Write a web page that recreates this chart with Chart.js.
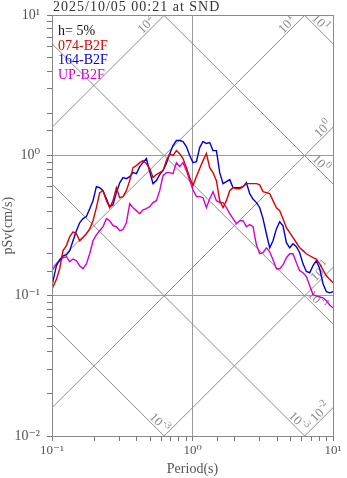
<!DOCTYPE html>
<html>
<head>
<meta charset="utf-8">
<script src="https://cdn.jsdelivr.net/npm/chart.js@4.4.1/dist/chart.umd.min.js"></script>
<style>
html,body{margin:0;padding:0;background:#fff;}
canvas{display:block;}
</style>
</head>
<body>
<canvas id="c" width="347" height="478"></canvas>
<script>
// ---------------- data ----------------
const titleText = '2025/10/05 00:21 at SND';
const dampingText = 'h= 5%';
const seriesNames = ['074-B2F', '164-B2F', 'UP-B2F'];
const seriesColors = ['#e00000', '#0000dc', '#d400d4'];

const periods = [
  0.100, 0.1075, 0.1134, 0.1198, 0.1266, 0.1337, 0.1411, 0.1492, 0.1574, 0.1662,
  0.1757, 0.1855, 0.1958, 0.2070, 0.2185, 0.2307, 0.2439, 0.2575, 0.2718, 0.2873,
  0.3033, 0.3201, 0.3384, 0.3573, 0.3772, 0.3988, 0.4209, 0.4443, 0.4697, 0.4959,
  0.5235, 0.5534, 0.5842, 0.6166, 0.6519, 0.6884, 0.7266, 0.7681, 0.8109, 0.8558,
  0.9050, 0.9552, 1.008, 1.066, 1.125, 1.188, 1.256, 1.326, 1.399, 1.480,
  1.562, 1.649, 1.743, 1.840, 1.942, 2.053, 2.168, 2.288, 2.419, 2.554,
  2.696, 2.850, 3.009, 3.176, 3.357, 3.544, 3.741, 3.956, 4.175, 4.407,
  4.660, 4.918, 5.192, 5.489, 5.794, 6.116, 6.466, 6.826, 7.205, 7.618,
  8.041, 8.489, 8.974, 9.473, 10.0
];

const sv074 = [
  0.112, 0.131, 0.156, 0.210, 0.228, 0.264, 0.286, 0.277, 0.247, 0.260,
  0.277, 0.300, 0.343, 0.425, 0.544, 0.562, 0.477, 0.425, 0.477, 0.591,
  0.501, 0.510, 0.562, 0.663, 0.821, 0.848, 0.891, 0.921, 0.877, 0.808,
  0.697, 0.732, 0.756, 0.781, 0.921, 1.033, 1.000, 1.086, 1.033, 0.952,
  0.821, 0.697, 0.611, 0.708, 0.808, 0.921, 1.033, 0.821, 0.756, 0.663,
  0.477, 0.425, 0.477, 0.562, 0.591, 0.580, 0.580, 0.600, 0.631, 0.631,
  0.631, 0.631, 0.620, 0.553, 0.544, 0.535, 0.477, 0.425, 0.405, 0.355,
  0.306, 0.282, 0.260, 0.239, 0.220, 0.210, 0.1995, 0.193, 0.187, 0.183,
  0.169, 0.153, 0.139, 0.131, 0.124
];

const sv164 = [
  0.118, 0.164, 0.181, 0.193, 0.196, 0.210, 0.247, 0.291, 0.332, 0.355,
  0.367, 0.418, 0.477, 0.600, 0.590, 0.562, 0.493, 0.432, 0.446, 0.544,
  0.640, 0.697, 0.685, 0.708, 0.756, 0.744, 0.835, 0.891, 0.952, 0.770,
  0.631, 0.663, 0.732, 0.781, 0.877, 1.033, 1.179, 1.280, 1.280, 1.260,
  1.160, 1.000, 0.891, 0.905, 1.140, 1.260, 1.220, 1.240, 1.086, 1.086,
  0.756, 0.631, 0.652, 0.674, 0.591, 0.591, 0.591, 0.600, 0.640, 0.535,
  0.490, 0.462, 0.425, 0.355, 0.277, 0.220, 0.247, 0.300, 0.337, 0.316,
  0.239, 0.220, 0.235, 0.224, 0.203, 0.169, 0.149, 0.146, 0.164, 0.178,
  0.156, 0.122, 0.107, 0.105, 0.107
];

const svUP = [
  0.151, 0.169, 0.178, 0.187, 0.190, 0.175, 0.183, 0.178, 0.164, 0.156,
  0.169, 0.1995, 0.247, 0.272, 0.291, 0.311, 0.355, 0.343, 0.316, 0.311,
  0.291, 0.296, 0.332, 0.454, 0.425, 0.405, 0.385, 0.410, 0.418, 0.432,
  0.462, 0.477, 0.562, 0.720, 0.756, 0.756, 0.744, 0.891, 0.835, 0.891,
  0.781, 0.663, 0.571, 0.510, 0.510, 0.501, 0.425, 0.493, 0.553, 0.477,
  0.462, 0.462, 0.425, 0.385, 0.355, 0.327, 0.343, 0.343, 0.311, 0.322,
  0.311, 0.231, 0.1995, 0.203, 0.220, 0.206, 0.181, 0.156, 0.156, 0.166,
  0.187, 0.1995, 0.1995, 0.172, 0.151, 0.146, 0.137, 0.118, 0.102, 0.100,
  0.098, 0.0968, 0.0921, 0.086, 0.0821
];

const xTickValues = [0.1, 1, 10];
const xTickLabels = ['10\u207B\u00B9', '10\u2070', '10\u00B9'];
const yTickValues = [0.01, 0.1, 1, 10];
const yTickLabels = ['10\u207B\u00B2', '10\u207B\u00B9', '10\u2070', '10\u00B9'];

// tripartite reference lines: constant pseudo-acceleration (cm/s^2) and displacement (cm)
const accelLevels = [100, 10, 1, 0.1, 0.01];
const dispLevels = [10, 1, 0.1, 0.01, 0.001];
// labels on those lines: kind, level, period where label sits, exponent text
const diagLabelKinds   = ['acc', 'acc', 'disp', 'acc', 'disp', 'acc', 'disp', 'disp', 'acc', 'disp'];
const diagLabelLevels  = [100, 10, 10, 1, 1, 0.1, 0.1, 0.01, 0.01, 0.001];
const diagLabelPeriods = [0.502, 5.04, 7.59, 9.09, 7.65, 8.73, 7.23, 5.30, 8.69, 0.541];
const diagLabelExps    = ['2', '1', '1', '0', '0', '-1', '-1', '-3', '-2', '-3'];

// ---------------- drawing ----------------
const SERIF = "'Liberation Serif', 'DejaVu Serif', serif";
const seriesValues = [sv074, sv164, svUP];

function isPow10(v) {
  const l = Math.log10(v);
  return Math.abs(l - Math.round(l)) < 1e-6;
}
function lookupLabel(v, vals, labels) {
  for (let i = 0; i < vals.length; i++) {
    if (Math.abs(Math.log10(v) - Math.log10(vals[i])) < 1e-6) return labels[i];
  }
  return '';
}
function svOnLine(kind, level, T) {
  return kind === 'acc' ? level * T / (2 * Math.PI) : 2 * Math.PI * level / T;
}

const tripartite = {
  id: 'tripartite',
  beforeDatasetsDraw(chart) {
    const { ctx, chartArea: a, scales: { x, y } } = chart;
    ctx.save();
    ctx.beginPath();
    ctx.rect(a.left, a.top, a.right - a.left, a.bottom - a.top);
    ctx.clip();
    ctx.strokeStyle = '#8c8c8c';
    ctx.lineWidth = 1;
    const drawLine = (kind, level) => {
      const t0 = x.min / 10, t1 = x.max * 10;
      ctx.beginPath();
      ctx.moveTo(x.getPixelForValue(t0), y.getPixelForValue(svOnLine(kind, level, t0)));
      ctx.lineTo(x.getPixelForValue(t1), y.getPixelForValue(svOnLine(kind, level, t1)));
      ctx.stroke();
    };
    accelLevels.forEach(l => drawLine('acc', l));
    dispLevels.forEach(l => drawLine('disp', l));

    // labels
    ctx.fillStyle = '#8a8a8a';
    for (let i = 0; i < diagLabelKinds.length; i++) {
      const kind = diagLabelKinds[i], lev = diagLabelLevels[i], T = diagLabelPeriods[i];
      const px = x.getPixelForValue(T), py = y.getPixelForValue(svOnLine(kind, lev, T));
      const px2 = x.getPixelForValue(T * 1.2), py2 = y.getPixelForValue(svOnLine(kind, lev, T * 1.2));
      const ang = Math.atan2(py2 - py, px2 - px);
      ctx.save();
      ctx.translate(px, py);
      ctx.rotate(ang);
      ctx.font = '13px ' + SERIF;
      const wb = ctx.measureText('10').width;
      ctx.font = '10px ' + SERIF;
      const we = ctx.measureText(diagLabelExps[i]).width;
      const total = wb + we + 0.5;
      ctx.textBaseline = 'alphabetic';
      ctx.textAlign = 'left';
      ctx.font = '13px ' + SERIF;
      ctx.fillText('10', -total / 2, -2);
      ctx.font = '10px ' + SERIF;
      ctx.fillText(diagLabelExps[i], -total / 2 + wb + 0.5, -7.5);
      ctx.restore();
    }
    ctx.restore();
  },
  afterDraw(chart) {
    const { ctx, chartArea: a } = chart;
    ctx.save();
    // frame
    ctx.strokeStyle = '#8a8a8a';
    ctx.lineWidth = 1;
    ctx.strokeRect(Math.round(a.left) + 0.5, Math.round(a.top) + 0.5,
                   Math.round(a.right - a.left), Math.round(a.bottom - a.top));
    // title
    ctx.fillStyle = '#333';
    ctx.font = '14px ' + SERIF;
    ctx.textBaseline = 'alphabetic';
    ctx.textAlign = 'left';
    try { ctx.letterSpacing = '1px'; } catch (e) {}
    ctx.fillText(titleText, a.left + 1, 10.5);
    try { ctx.letterSpacing = '0px'; } catch (e) {}
    // legend text
    ctx.font = '14px ' + SERIF;
    const lx = a.left + 6;
    ctx.fillStyle = '#111';
    ctx.fillText(dampingText, lx, a.top + 19.5);
    chart.data.datasets.forEach((ds, i) => {
      ctx.fillStyle = ds.borderColor;
      ctx.fillText(ds.label, lx, a.top + 34.5 + i * 14.5);
    });
    ctx.restore();
  }
};

const gridColor = c => (c.tick && isPow10(c.tick.value)) ? '#9a9a9a' : 'rgba(0,0,0,0)';

new Chart(document.getElementById('c').getContext('2d'), {
  type: 'line',
  data: {
    datasets: seriesNames.map((name, i) => ({
      label: name,
      data: periods.map((t, j) => ({ x: t, y: seriesValues[i][j] })),
      borderColor: seriesColors[i],
      backgroundColor: seriesColors[i],
      borderWidth: 1.4,
      pointRadius: 0,
      fill: false,
      tension: 0
    }))
  },
  options: {
    responsive: false,
    animation: false,
    devicePixelRatio: 1,
    layout: { padding: { top: 15, right: 14, left: 0, bottom: 0 } },
    plugins: { legend: { display: false }, title: { display: false }, tooltip: { enabled: false } },
    scales: {
      x: {
        type: 'logarithmic', min: 0.1, max: 10, position: 'bottom',
        afterFit(s) { s.height = 42; },
        grid: { color: gridColor, lineWidth: 1, tickColor: '#777', tickLength: 5 },
        border: { color: '#777', width: 1 },
        ticks: {
          autoSkip: false, maxRotation: 0, minRotation: 0, padding: 2, color: '#555',
          font: { family: SERIF, size: 13 },
          callback: v => lookupLabel(v, xTickValues, xTickLabels)
        },
        title: { display: true, text: 'Period(s)', color: '#555',
                 font: { family: SERIF, size: 14 }, padding: { top: 0, bottom: 0 } }
      },
      y: {
        type: 'logarithmic', min: 0.01, max: 10, position: 'left',
        afterFit(s) { s.width = 52; },
        grid: { color: gridColor, lineWidth: 1, tickColor: '#777', tickLength: 5 },
        border: { color: '#777', width: 1 },
        ticks: {
          autoSkip: false, padding: 7, color: '#555',
          font: { family: SERIF, size: 14 },
          callback: v => lookupLabel(v, yTickValues, yTickLabels)
        },
        title: { display: true, text: 'pSv(cm/s)', color: '#555',
                 font: { family: SERIF, size: 14 }, padding: { top: 0, bottom: 0 } }
      }
    }
  },
  plugins: [tripartite]
});
</script>
</body>
</html>
